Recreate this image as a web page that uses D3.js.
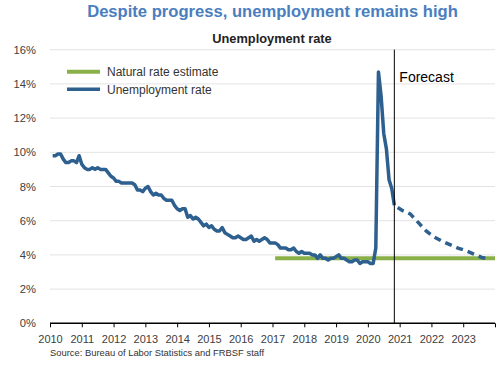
<!DOCTYPE html>
<html>
<head>
<meta charset="utf-8">
<script src="https://cdn.jsdelivr.net/npm/d3@7"></script>
<style>
  html, body { margin: 0; padding: 0; background: #fff; }
  svg { display: block; font-family: "Liberation Sans", Arial, sans-serif; }
</style>
</head>
<body>
<svg id="chart" width="500" height="365"></svg>
<script>
// ---- Data ----
const startYear = 2010;               // monthly observations begin Jan 2010
const unemployment = [
  9.8, 9.8, 9.9, 9.9, 9.6, 9.4, 9.4, 9.5, 9.5, 9.4, 9.8, 9.3,   // 2010
  9.1, 9.0, 9.0, 9.1, 9.0, 9.1, 9.0, 9.0, 9.0, 8.8, 8.6, 8.5,   // 2011
  8.3, 8.3, 8.2, 8.2, 8.2, 8.2, 8.2, 8.1, 7.8, 7.8, 7.7, 7.9,   // 2012
  8.0, 7.7, 7.5, 7.6, 7.5, 7.5, 7.3, 7.2, 7.2, 7.2, 6.9, 6.7,   // 2013
  6.6, 6.7, 6.7, 6.2, 6.3, 6.1, 6.2, 6.1, 5.9, 5.7, 5.8, 5.6,   // 2014
  5.7, 5.5, 5.4, 5.4, 5.6, 5.3, 5.2, 5.1, 5.0, 5.0, 5.1, 5.0,   // 2015
  4.9, 4.9, 5.0, 5.1, 4.8, 4.9, 4.8, 4.9, 5.0, 4.9, 4.7, 4.7,   // 2016
  4.7, 4.6, 4.4, 4.4, 4.4, 4.3, 4.3, 4.4, 4.2, 4.1, 4.2, 4.1,   // 2017
  4.1, 4.1, 4.0, 4.0, 3.8, 4.0, 3.8, 3.8, 3.7, 3.8, 3.8, 3.9,   // 2018
  4.0, 3.8, 3.8, 3.7, 3.6, 3.6, 3.7, 3.7, 3.5, 3.6, 3.6, 3.6,   // 2019
  3.5, 3.5, 4.4, 14.7, 13.3, 11.1, 10.2, 8.4, 7.9, 6.9          // 2020
];
// forecast path (decimal year, percent)
const forecastDates  = [2020.833, 2021.083, 2021.333, 2021.583, 2021.833, 2022.083, 2022.333, 2022.583, 2022.833, 2023.083, 2023.333, 2023.583, 2023.833];
const forecastValues = [6.9, 6.6, 6.4, 5.9, 5.4, 5.05, 4.8, 4.6, 4.4, 4.25, 4.05, 3.85, 3.75];
const naturalRateDates  = [2017.083, 2024];
const naturalRateValues = [3.8, 3.8];
const forecastStart = 2020.833;
const xTicks = [2010, 2011, 2012, 2013, 2014, 2015, 2016, 2017, 2018, 2019, 2020, 2021, 2022, 2023];
const yTicks = [0, 2, 4, 6, 8, 10, 12, 14, 16];

const title = "Despite progress, unemployment remains high";
const subtitle = "Unemployment rate";
const source = "Source: Bureau of Labor Statistics and FRBSF staff";
const legendItems = [
  { label: "Natural rate estimate", color: "#8ab04a", width: 4 },
  { label: "Unemployment rate", color: "#2d5f8f", width: 3.5 }
];

// ---- Layout ----
const svg = d3.select("#chart");
const x = d3.scaleLinear().domain([2010, 2024]).range([50, 495]);
const y = d3.scaleLinear().domain([0, 16]).range([323.3, 49.7]);

// Title
svg.append("text").attr("x", 272.5).attr("y", 17)
  .attr("text-anchor", "middle").attr("font-size", 16.6).attr("font-weight", "bold")
  .attr("fill", "#4a7ebf").text(title);
svg.append("text").attr("x", 272).attr("y", 42.7)
  .attr("text-anchor", "middle").attr("font-size", 12.8).attr("font-weight", "bold")
  .attr("fill", "#222").text(subtitle);

// Gridlines
svg.append("g").selectAll("line").data(yTicks.filter(d => d > 0)).join("line")
  .attr("x1", x(2010)).attr("x2", x(2024))
  .attr("y1", d => y(d)).attr("y2", d => y(d))
  .attr("stroke", "#e3e3e3").attr("stroke-width", 1);

// Y axis labels
const yAxis = d3.axisLeft(y).tickValues(yTicks).tickFormat(d => d + "%").tickSize(0).tickPadding(14);
const gy = svg.append("g").attr("transform", `translate(${x(2010)},0)`).call(yAxis);
gy.select(".domain").remove();
gy.selectAll("text").attr("font-size", 11.2).attr("fill", "#404040")
  .attr("font-family", "Liberation Sans, Arial, sans-serif");

// X axis
const xAxis = d3.axisBottom(x).tickValues(xTicks.concat([2024])).tickFormat(d => d === 2024 ? "" : d).tickSize(4).tickPadding(8);
const gx = svg.append("g").attr("transform", `translate(0,${y(0)})`).call(xAxis);
gx.select(".domain").attr("stroke", "#000").attr("stroke-width", 1.5).attr("d", `M${x(2010)},0H${x(2024)}`);
gx.selectAll(".tick line").attr("stroke", "#000");
gx.selectAll("text").attr("font-size", 11).attr("fill", "#404040")
  .attr("font-family", "Liberation Sans, Arial, sans-serif");

// Natural rate line
const line = d3.line().x(d => x(d[0])).y(d => y(d[1]));
svg.append("path")
  .datum(naturalRateDates.map((d, i) => [d, naturalRateValues[i]]))
  .attr("d", line).attr("fill", "none")
  .attr("stroke", legendItems[0].color).attr("stroke-width", legendItems[0].width);

// Unemployment actual
const actual = unemployment.map((v, i) => [startYear + (i + 1) / 12, v]);
svg.append("path").datum(actual).attr("d", line).attr("fill", "none")
  .attr("stroke", legendItems[1].color).attr("stroke-width", legendItems[1].width)
  .attr("stroke-linejoin", "round");

// Forecast dashed
svg.append("path")
  .datum(forecastDates.map((d, i) => [d, forecastValues[i]]))
  .attr("d", line).attr("fill", "none")
  .attr("stroke", legendItems[1].color).attr("stroke-width", legendItems[1].width)
  .attr("stroke-dasharray", "7,5").attr("stroke-dashoffset", -4);

// Forecast marker
svg.append("line").attr("x1", x(forecastStart)).attr("x2", x(forecastStart))
  .attr("y1", y(16)).attr("y2", y(0)).attr("stroke", "#000").attr("stroke-width", 1);
svg.append("text").attr("x", x(forecastStart) + 5).attr("y", 82.3)
  .attr("font-size", 14).attr("fill", "#000").text("Forecast");

// Legend
const lg = svg.append("g");
legendItems.forEach((item, i) => {
  const ly = 71.7 + i * 17.6;
  lg.append("line").attr("x1", 67).attr("x2", 100).attr("y1", ly).attr("y2", ly)
    .attr("stroke", item.color).attr("stroke-width", item.width);
  lg.append("text").attr("x", 107).attr("y", ly + 4.2).attr("font-size", 12)
    .attr("fill", "#333").text(item.label);
});

// Source
svg.append("text").attr("x", 50).attr("y", 355.5).attr("font-size", 9.4)
  .attr("fill", "#333").text(source);
</script>
</body>
</html>
